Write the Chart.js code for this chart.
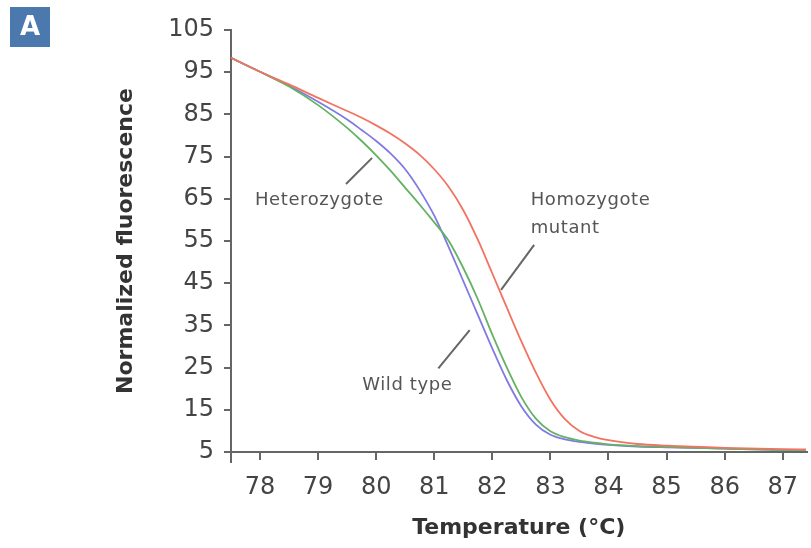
<!DOCTYPE html>
<html>
<head>
<meta charset="utf-8">
<script src="https://cdn.jsdelivr.net/npm/chart.js@4.4.1/dist/chart.umd.min.js"></script>
<style>
  html, body { margin: 0; padding: 0; background: #fff; }
  #wrap { width: 811px; height: 548px; position: relative; }
</style>
</head>
<body>
<div id="wrap"><canvas id="meltChart"></canvas></div>
<script>
const temperatures = [77.5, 78, 78.5, 79, 79.5, 79.75, 80, 80.25, 80.5, 80.75, 81, 81.25, 81.5, 81.75, 82, 82.25, 82.5, 82.75, 83, 83.25, 83.5, 83.75, 84, 84.5, 85, 86, 87, 87.4];

const homozygoteMutant = [98.4, 95.1, 92.1, 88.9, 85.8, 84.2, 82.4, 80.4, 78.1, 75.4, 72.0, 67.8, 62.3, 55.3, 47.3, 39.2, 31.2, 23.8, 17.4, 12.8, 10.0, 8.6, 7.8, 6.9, 6.5, 6.0, 5.7, 5.6];
const heterozygote     = [98.4, 95.1, 91.6, 87.2, 81.8, 78.7, 75.3, 71.6, 67.6, 63.6, 59.4, 55.0, 48.6, 41.2, 32.8, 25.0, 18.0, 12.9, 9.9, 8.5, 7.7, 7.2, 6.8, 6.4, 6.2, 5.8, 5.5, 5.5];
const wildType         = [98.4, 95.1, 91.8, 88.0, 83.8, 81.3, 78.7, 75.7, 72.0, 67.0, 61.0, 53.5, 45.5, 37.5, 29.5, 22.0, 15.8, 11.5, 9.1, 8.0, 7.4, 7.0, 6.7, 6.3, 6.1, 5.8, 5.5, 5.5];

// Marcas de los ejes
const xTickValues = [78, 79, 80, 81, 82, 83, 84, 85, 86, 87];
const yTickValues = [5, 15, 25, 35, 45, 55, 65, 75, 85, 95, 105];

// Convertimos a puntos {x, y}
function toPoints(values) {
  return temperatures.map((t, i) => ({ x: t, y: values[i] }));
}

// Etiquetas con su linea guia (en unidades de datos)
const annotations = [
  { lines: ['Heterozygote'], x: 79.02, y: 64.7, align: 'center', from: [79.48, 68.5], to: [79.93, 74.7] },
  { lines: ['Homozygote', 'mutant'], x: 82.66, y: 64.7, align: 'left', from: [82.72, 54.1], to: [82.15, 43.4] },
  { lines: ['Wild type'], x: 79.76, y: 20.9, align: 'left', from: [81.61, 33.9], to: [81.07, 24.8] }
];

const labelPlugin = {
  id: 'labelPlugin',
  afterDraw(chart) {
    const ctx = chart.ctx;
    const xs = chart.scales.x;
    const ys = chart.scales.y;
    const area = chart.chartArea;
    ctx.save();

    // El eje Y baja un poco por debajo del eje X
    ctx.strokeStyle = '#666';
    ctx.lineWidth = 2;
    ctx.beginPath();
    ctx.moveTo(area.left, area.bottom);
    ctx.lineTo(area.left, area.bottom + 11);
    ctx.stroke();

    // Recuadro "A"
    ctx.fillStyle = '#4b78ad';
    ctx.fillRect(10, 7, 40, 40);
    ctx.fillStyle = '#ffffff';
    ctx.font = 'bold 26px "DejaVu Sans"';
    ctx.textAlign = 'center';
    ctx.textBaseline = 'middle';
    ctx.fillText('A', 30, 28);

    // Etiquetas de las curvas
    ctx.font = '18px "DejaVu Sans"';
    ctx.letterSpacing = '0.6px';
    ctx.fillStyle = '#555';
    ctx.strokeStyle = '#666';
    ctx.lineWidth = 2;
    annotations.forEach(a => {
      ctx.textAlign = a.align;
      const px = xs.getPixelForValue(a.x);
      const py = ys.getPixelForValue(a.y);
      a.lines.forEach((txt, i) => ctx.fillText(txt, px, py + i * 28));
      ctx.beginPath();
      ctx.moveTo(xs.getPixelForValue(a.from[0]), ys.getPixelForValue(a.from[1]));
      ctx.lineTo(xs.getPixelForValue(a.to[0]), ys.getPixelForValue(a.to[1]));
      ctx.stroke();
    });
    ctx.restore();
  }
};

const ctx = document.getElementById('meltChart');

new Chart(ctx, {
  type: 'line',
  data: {
    datasets: [
      { label: 'Homozygote mutant', data: toPoints(homozygoteMutant), borderColor: 'rgb(242,115,98)' },
      { label: 'Heterozygote', data: toPoints(heterozygote), borderColor: 'rgb(100,178,100)' },
      { label: 'Wild type', data: toPoints(wildType), borderColor: 'rgb(128,122,226)' }
    ]
  },
  options: {
    responsive: true,
    maintainAspectRatio: false,
    animation: false,
    layout: { padding: { top: 30, right: 0, left: 0, bottom: 0 } },
    elements: {
      point: { radius: 0 },
      line: { borderWidth: 1.8, cubicInterpolationMode: 'monotone', fill: false }
    },
    plugins: {
      legend: { display: false },
      tooltip: { enabled: false }
    },
    scales: {
      x: {
        type: 'linear',
        min: 77.5,
        max: 87.41,
        afterBuildTicks: scale => { scale.ticks = xTickValues.map(v => ({ value: v })); },
        afterFit: scale => { scale.height = 96; },
        grid: { drawOnChartArea: false, tickLength: 8, color: '#666', lineWidth: 2 },
        border: { color: '#666', width: 2 },
        ticks: { color: '#444', padding: 13, maxRotation: 0, autoSkip: false, font: { family: 'DejaVu Sans', size: 24 } },
        title: {
          display: true,
          text: 'Temperature (°C)',
          color: '#333',
          font: { family: 'DejaVu Sans', size: 22, weight: 'bold' },
          padding: { top: 0, bottom: 7 }
        }
      },
      y: {
        min: 5,
        max: 105,
        afterBuildTicks: scale => { scale.ticks = yTickValues.map(v => ({ value: v })); },
        afterFit: scale => { scale.width = 231; },
        grid: { drawOnChartArea: false, tickLength: 7, color: '#666', lineWidth: 2 },
        border: { color: '#666', width: 2 },
        ticks: { color: '#444', padding: 10, autoSkip: false, font: { family: 'DejaVu Sans', size: 24 } },
        title: {
          display: true,
          text: 'Normalized fluorescence',
          color: '#333',
          font: { family: 'DejaVu Sans', size: 22, weight: 'bold' },
          padding: { top: 113, bottom: 0 }
        }
      }
    }
  },
  plugins: [labelPlugin]
});
</script>
</body>
</html>
